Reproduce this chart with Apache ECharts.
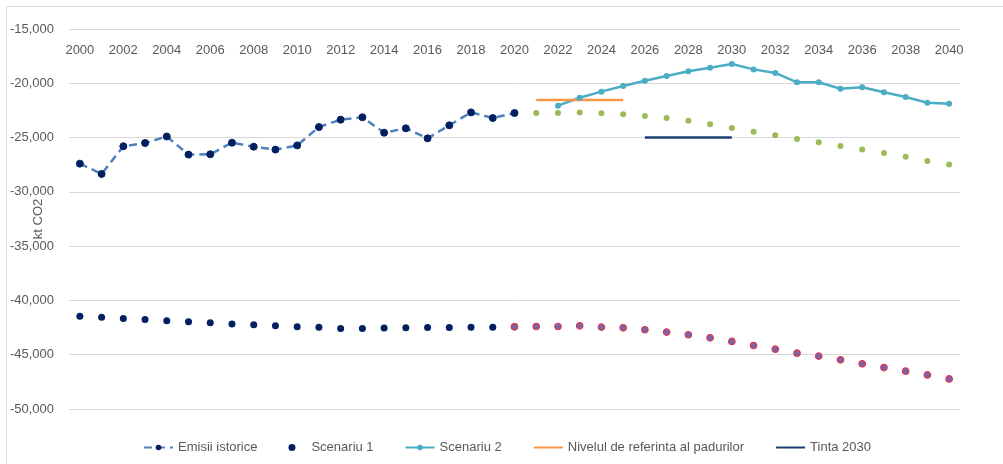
<!DOCTYPE html>
<html>
<head>
<meta charset="utf-8">
<script src="https://cdn.jsdelivr.net/npm/echarts@6/dist/echarts.min.js"></script>
<style>
  html, body { margin: 0; padding: 0; background: #fff; }
  #chart { width: 1003px; height: 464px; }
</style>
</head>
<body>
<div id="chart"></div>
<script>
const years = []
for (let y = 2000; y <= 2040; y++) years.push(String(y))

// kt CO2
const emisiiIstorice = [-27400, -28350, -25800, -25500, -24900, -26570, -26540, -25470, -25840, -26110,
  -25720, -24030, -23350, -23130, -24550, -24150, -25070, -23870, -22680, -23200, -22740]
const scenariu1 = [-41450, -41540, -41660, -41750, -41870, -41960, -42060, -42180, -42240, -42330,
  -42430, -42460, -42580, -42580, -42550, -42520, -42490, -42490, -42460, -42460, -42430]
const scenariu2 = [null, null, -22060, -21330, -20770, -20250, -19760, -19330, -18900, -18560,
  -18220, -18720, -19050, -19910, -19910, -20500, -20370, -20830, -21260, -21790, -21880]
const proiectieVerde = [-22770, -22740, -22740, -22680, -22770, -22860, -23010, -23200, -23440, -23780,
  -24120, -24460, -24790, -25130, -25440, -25780, -26110, -26420, -26760, -27160, -27490]
const proiectieRosie = [-42430, -42400, -42400, -42340, -42460, -42520, -42700, -42920, -43160, -43440,
  -43780, -44150, -44490, -44860, -45130, -45470, -45840, -46180, -46520, -46860, -47230]
const nivelReferinta = { from: 2021, to: 2025, value: -21540 }
const tinta2030 = { from: 2026, to: 2030, value: -25000 }

const pad = n => Array(n).fill(null)
const hist = emisiiIstorice.concat(pad(20))
const sc1 = scenariu1.concat(pad(20))
const sc2 = pad(20).concat(scenariu2)
const verde = pad(20).concat(proiectieVerde)
const rosu = pad(20).concat(proiectieRosie)
const flat = seg => years.map(y => (+y >= seg.from && +y <= seg.to) ? seg.value : null)

const font = 'Liberation Sans'
const grey = '#595959'

const chart = echarts.init(document.getElementById('chart'))

chart.setOption({
  animation: false,
  textStyle: { fontFamily: font },
  graphic: [{
    type: 'rect',
    shape: { x: 6.5, y: 6.5, width: 1010, height: 470 },
    style: { fill: 'none', stroke: '#d9d9d9', lineWidth: 1 },
    silent: true
  }],
  legend: {
    data: [
      'Emisii istorice',
      'Scenariu 1',
      'Scenariu 2',
      { name: 'Nivelul de referinta al padurilor', itemStyle: { opacity: 0 } },
      { name: 'Tinta 2030', itemStyle: { opacity: 0 } }
    ],
    bottom: 5,
    left: 138,
    itemWidth: 29,
    itemHeight: 7,
    itemGap: 31,
    textStyle: { color: grey, fontSize: 13, fontFamily: font }
  },
  grid: {
    left: 69,
    right: 43,
    top: 29,
    bottom: 55,
    containLabel: false,
    outerBoundsMode: 'none'
  },
  xAxis: {
    type: 'category',
    position: 'top',
    data: years,
    boundaryGap: true,
    axisLine: { show: false },
    axisTick: { show: false },
    axisLabel: {
      inside: true,
      interval: 1,
      margin: 15,
      color: grey,
      fontSize: 13,
      fontFamily: font
    }
  },
  yAxis: {
    type: 'value',
    min: -50000,
    max: -15000,
    interval: 5000,
    name: 'kt CO2',
    nameLocation: 'middle',
    nameRotate: 90,
    nameGap: 24,
    nameMoveOverlap: false,
    nameTextStyle: { color: grey, fontSize: 13, fontFamily: font },
    axisLine: { show: false },
    axisTick: { show: false },
    splitLine: { lineStyle: { color: '#d9d9d9', width: 1 } },
    axisLabel: {
      margin: 15,
      color: grey,
      fontSize: 13,
      fontFamily: font,
      formatter: v => v.toLocaleString('en-US')
    }
  },
  series: [
    {
      name: 'Emisii istorice',
      type: 'line',
      data: hist,
      symbol: 'circle',
      symbolSize: 7,
      itemStyle: { color: '#002060', borderColor: '#002060' },
      lineStyle: { color: '#4f81bd', width: 2.5, type: [8, 5] }
    },
    {
      name: 'Scenariu 1',
      type: 'scatter',
      data: sc1,
      symbol: 'circle',
      symbolSize: 7,
      itemStyle: { color: '#002060', opacity: 1 }
    },
    {
      name: 'Scenariu 2',
      type: 'line',
      data: sc2,
      symbol: 'circle',
      symbolSize: 6,
      itemStyle: { color: '#4bacc6' },
      lineStyle: { color: '#4bacc6', width: 2.5 }
    },
    {
      name: 'Nivelul de referinta al padurilor',
      type: 'line',
      data: flat(nivelReferinta),
      symbol: 'none',
      itemStyle: { color: '#f79646' },
      lineStyle: { color: '#f79646', width: 2.5 }
    },
    {
      name: 'Tinta 2030',
      type: 'line',
      data: flat(tinta2030),
      symbol: 'none',
      itemStyle: { color: '#1f3f6e' },
      lineStyle: { color: '#1f3f6e', width: 2.5 }
    },
    {
      name: 'Proiectie 2',
      type: 'scatter',
      data: verde,
      symbol: 'circle',
      symbolSize: 6,
      itemStyle: { color: '#9bbb59', opacity: 1 }
    },
    {
      name: 'Proiectie 1',
      type: 'scatter',
      data: rosu,
      symbol: 'circle',
      symbolSize: 6.5,
      itemStyle: { color: '#7466a8', borderColor: '#e8334f', borderWidth: 1.2, opacity: 1 }
    }
  ]
})
</script>
</body>
</html>
